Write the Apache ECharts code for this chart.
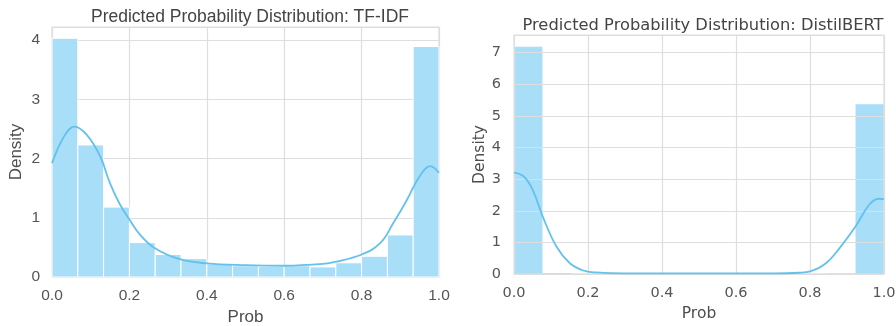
<!DOCTYPE html>
<html>
<head>
<meta charset="utf-8">
<script src="https://cdn.jsdelivr.net/npm/echarts@6/dist/echarts.min.js"></script>
<style>
html, body { margin: 0; padding: 0; background: #fff; }
#chart { width: 896px; height: 326px; }
</style>
</head>
<body>
<div id="chart"></div>
<script>
// TF-IDF: 15 bins over [0,1]
var tfidfBins = [4.03, 2.23, 1.18, 0.58, 0.38, 0.31, 0.22, 0.19, 0.18, 0.19, 0.17, 0.24, 0.35, 0.71, 3.89]
var tfidfKde = [
	[0, 1.92], [0.03, 2.36], [0.058, 2.54], [0.09, 2.40], [0.125, 2.03], [0.15, 1.58],
	[0.176, 1.22], [0.2, 0.97], [0.228, 0.71], [0.265, 0.49], [0.33, 0.30], [0.4, 0.23],
	[0.5, 0.2], [0.6, 0.19], [0.7, 0.22], [0.735, 0.26], [0.8, 0.38], [0.848, 0.57],
	[0.882, 0.91], [0.917, 1.30], [0.95, 1.70], [0.977, 1.87], [1.0, 1.76]
]
// DistilBERT: 13 bins over [0,1]
var bertBins = [7.19, 0.03, 0.01, 0.01, 0.005, 0.005, 0.005, 0.005, 0.005, 0.01, 0.01, 0.02, 5.37]
var bertKde = [
	[0, 3.21], [0.025, 3.1], [0.05, 2.68], [0.078, 1.81], [0.115, 0.86], [0.151, 0.34], [0.187, 0.11],
	[0.22, 0.05], [0.3, 0.02], [0.5, 0.02], [0.7, 0.02], [0.77, 0.04], [0.8, 0.08],
	[0.844, 0.35], [0.88, 0.82], [0.923, 1.5], [0.96, 2.19], [0.986, 2.38], [1.0, 2.37]
]
var xTicks = ['0.0', '0.2', '0.4', '0.6', '0.8', '1.0']
var titles = ['Predicted Probability Distribution: TF-IDF', 'Predicted Probability Distribution: DistilBERT']

var barColor = '#a8def7'
var lineColor = '#63c1ee'
var gridColor = '#dedede'

function binData(bins) {
	var w = 1 / bins.length
	return bins.map(function (h, i) { return [i * w, (i + 1) * w, h] })
}

function renderBin(edge) {
	return function (params, api) {
		var p0 = api.coord([api.value(0), api.value(2)])
		var p1 = api.coord([api.value(1), 0])
		return {
			type: 'rect',
			shape: { x: p0[0], y: p0[1], width: p1[0] - p0[0], height: p1[1] - p0[1] },
			style: { fill: barColor, stroke: edge ? '#fff' : null, lineWidth: edge ? 1 : 0 }
		}
	}
}

function xAxis(idx, font, size, nameSize, margin, gap) {
	return {
		type: 'value', gridIndex: idx, min: 0, max: 1, interval: 0.2,
		name: 'Prob', nameLocation: 'middle', nameGap: gap,
		nameTextStyle: { fontFamily: font, fontSize: nameSize, color: '#4d4d4d' },
		axisLine: { show: false }, axisTick: { show: false },
		axisLabel: {
			margin: margin, fontFamily: font, fontSize: size, color: '#555',
			formatter: function (v) { return xTicks[Math.round(v / 0.2)] }
		},
		splitLine: { show: true, lineStyle: { color: gridColor, width: 1.2 } }
	}
}

function yAxis(idx, font, size, nameSize, max, margin, gap) {
	return {
		type: 'value', gridIndex: idx, min: 0, max: max, interval: 1,
		name: 'Density', nameLocation: 'middle', nameGap: gap,
		nameTextStyle: { fontFamily: font, fontSize: nameSize, color: '#4d4d4d' },
		axisLine: { show: false }, axisTick: { show: false },
		axisLabel: { margin: margin, fontFamily: font, fontSize: size, color: '#555', showMaxLabel: false },
		splitLine: { show: true, lineStyle: { color: gridColor, width: 1.2 } }
	}
}

function kdeLine(idx, data) {
	return {
		type: 'line', xAxisIndex: idx, yAxisIndex: idx, data: data,
		smooth: 0.4, showSymbol: false,
		lineStyle: { color: lineColor, width: 1.8 }, z: 3
	}
}

var option = {
	animation: false,
	title: [
		{ text: titles[0], left: 245, top: 3, textAlign: 'center',
			textStyle: { fontFamily: 'Liberation Sans', fontSize: 17.5, fontWeight: 'normal', color: '#444' } },
		{ text: titles[1], left: 698, top: 13, textAlign: 'center',
			textStyle: { fontFamily: 'DejaVu Sans', fontSize: 16.3, fontWeight: 'normal', color: '#444' } }
	],
	grid: [
		{ left: 52, top: 27, width: 387, height: 250, outerBoundsMode: 'none',
			show: true, borderColor: gridColor, borderWidth: 1.2 },
		{ left: 514, top: 35, width: 370, height: 239, outerBoundsMode: 'none',
			show: true, borderColor: gridColor, borderWidth: 1.2 }
	],
	xAxis: [
		xAxis(0, 'Liberation Sans', 15.5, 17, 11, 27),
		xAxis(1, 'DejaVu Sans', 14.5, 15.5, 12, 30)
	],
	yAxis: [
		yAxis(0, 'Liberation Sans', 15.5, 17, 4.22, 12, 27),
		yAxis(1, 'DejaVu Sans', 14.5, 15.5, 7.56, 13, 23)
	],
	series: [
		{ type: 'custom', xAxisIndex: 0, yAxisIndex: 0, renderItem: renderBin(true), data: binData(tfidfBins), z: 2 },
		kdeLine(0, tfidfKde),
		{ type: 'custom', xAxisIndex: 1, yAxisIndex: 1, renderItem: renderBin(false), data: binData(bertBins), z: -1 },
		kdeLine(1, bertKde)
	]
}

var myChart = echarts.init(document.getElementById('chart'))
myChart.setOption(option)
</script>
</body>
</html>
